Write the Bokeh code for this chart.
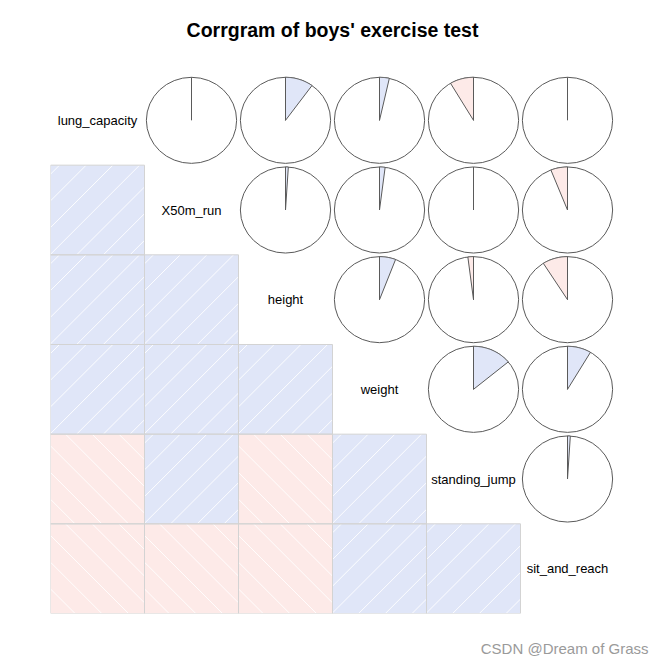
import numpy as np
from bokeh.plotting import figure
from bokeh.models import ColumnDataSource, Range1d, Title
from bokeh.core.properties import value
from bokeh.embed import file_html
from bokeh.resources import INLINE

# ---- data -------------------------------------------------------------
variables = ["lung_capacity", "X50m_run", "height", "weight",
             "standing_jump", "sit_and_reach"]
# upper-triangle correlations, read row by row
r_lung_capacity = [0.005, 0.10, 0.035, -0.085, -0.005]
r_x50m_run = [0.01, 0.02, 0.005, -0.06]
r_height = [0.058, -0.02, -0.09]
r_weight = [0.14, 0.085]
r_standing_jump = [0.01]

title_text = "Corrgram of boys' exercise test"
watermark_text = "CSDN @Dream of Grass"

# ---- styles -----------------------------------------------------------
POS_COL = "#E0E6F8"
NEG_COL = "#FDEAE8"
PIE_LINE = "#5a5a5a"
FONT = "Liberation Sans"
FRAME_W, FRAME_H = 564, 538      # plot-area size in pixels
HATCH_STEP = 26.7                # px between white hatch lines (horizontal)

n = len(variables)
corr = np.eye(n)
for i, vals in enumerate([r_lung_capacity, r_x50m_run, r_height,
                          r_weight, r_standing_jump]):
    for k, v in enumerate(vals):
        j = i + 1 + k
        corr[i, j] = v
        corr[j, i] = v


def cx(j):
    return j + 0.5


def cy(i):
    return n - i - 0.5


# lower triangle: shaded squares + white hatch lines (45 deg on screen)
cw, ch = FRAME_W / n, FRAME_H / n   # cell size in px
sx, sy, sc = [], [], []
hx0, hy0, hx1, hy1 = [], [], [], []
for i in range(n):
    for j in range(i):
        r = corr[i, j]
        sx.append(cx(j))
        sy.append(cy(i))
        sc.append(POS_COL if r >= 0 else NEG_COL)
        left, bottom = j, n - i - 1
        a = (9.0 if r >= 0 else 15.0) - 5 * HATCH_STEP
        while a < cw + ch + HATCH_STEP:
            if r >= 0:
                u0, u1 = max(0.0, a - ch), min(cw, a)
                if u1 > u0:
                    v0, v1 = u0 + ch - a, u1 + ch - a
                    hx0.append(left + u0 / cw); hy0.append(bottom + v0 / ch)
                    hx1.append(left + u1 / cw); hy1.append(bottom + v1 / ch)
            else:
                u0, u1 = max(0.0, a), min(cw, a + ch)
                if u1 > u0:
                    v0, v1 = ch - (u0 - a), ch - (u1 - a)
                    hx0.append(left + u0 / cw); hy0.append(bottom + v0 / ch)
                    hx1.append(left + u1 / cw); hy1.append(bottom + v1 / ch)
            a += HATCH_STEP
shade_src = ColumnDataSource(dict(x=sx, y=sy, c=sc))
hatch_src = ColumnDataSource(dict(x0=hx0, y0=hy0, x1=hx1, y1=hy1))

# upper triangle: pies
R = 0.48
px, py, wxs, wys, wc = [], [], [], [], []
for i in range(n):
    for j in range(i + 1, n):
        r = corr[i, j]
        x0, y0 = cx(j), cy(i)
        px.append(x0)
        py.append(y0)
        if abs(r) * 60 >= 0.5:
            m = max(2, int(round(360 * abs(r))))
            ang = np.linspace(np.pi / 2, np.pi / 2 - 2 * np.pi * r, m)
            xs = [x0] + list(x0 + R * np.cos(ang)) + [x0]
            ys = [y0] + list(y0 + R * np.sin(ang)) + [y0]
            wxs.append(xs)
            wys.append(ys)
            wc.append(POS_COL if r >= 0 else NEG_COL)
pie_src = ColumnDataSource(dict(x=px, y=py, ytop=[v + R for v in py]))
wedge_src = ColumnDataSource(dict(xs=wxs, ys=wys, c=wc))

lab_src = ColumnDataSource(dict(x=[cx(i) for i in range(n)],
                                y=[cy(i) for i in range(n)],
                                t=variables))

# ---- figure -----------------------------------------------------------
p = figure(width=656, height=664, x_range=Range1d(0, n), y_range=Range1d(0, n),
           output_backend="svg", toolbar_location=None,
           x_axis_location=None, y_axis_location=None,
           min_border_left=50, min_border_right=42,
           min_border_top=75, min_border_bottom=51,
           outline_line_color=None)
p.grid.visible = False

# blank (white-on-white) spacers keep title / watermark away from the plot area
p.add_layout(Title(text=".", text_font=FONT, text_font_size="13px",
                   text_color="white", standoff=19), "above")
p.title = Title(text=title_text, align="center", text_font=FONT,
                text_font_size="19.5px", text_font_style="bold",
                text_color="black", standoff=10)
p.add_layout(Title(text=".", text_font=FONT, text_font_size="13px",
                   text_color="white", standoff=13), "below")
p.add_layout(Title(text=watermark_text, align="right", text_font=FONT,
                   text_font_size="15px", text_font_style="normal",
                   text_color="#9a9a9a", standoff=0, offset=-34), "below")

p.rect(x="x", y="y", width=1, height=1, source=shade_src,
       fill_color="c", line_color=None)
p.segment(x0="x0", y0="y0", x1="x1", y1="y1", source=hatch_src,
          line_color="white", line_width=1, line_alpha=0.9)
p.rect(x="x", y="y", width=1, height=1, source=shade_src,
       fill_color=None, line_color="#D3D3D3", line_width=1)

p.ellipse(x="x", y="y", width=2 * R, height=2 * R, source=pie_src,
          fill_color="white", line_color=PIE_LINE, line_width=1)
p.patches(xs="xs", ys="ys", source=wedge_src, fill_color="c",
          line_color=PIE_LINE, line_width=1)
p.segment(x0="x", y0="y", x1="x", y1="ytop", source=pie_src,
          line_color=PIE_LINE, line_width=1)

p.text(x="x", y="y", text="t", source=lab_src, text_align="center",
       text_baseline="middle", text_font=value(FONT), text_font_size="13px",
       text_color="black")

open("out.html", "w").write(file_html(p, INLINE))
